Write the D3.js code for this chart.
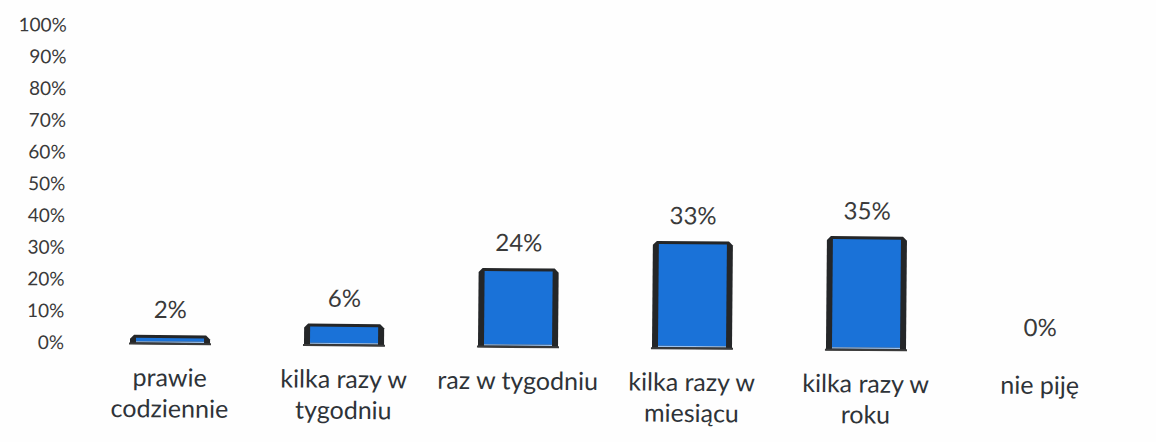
<!DOCTYPE html>
<html>
<head>
<meta charset="utf-8">
<script src="https://cdn.jsdelivr.net/npm/d3@7"></script>
<style>
  html, body { margin: 0; padding: 0; background: #ffffff; }
  svg { display: block; }
</style>
</head>
<body>
<svg id="chart" width="1156" height="442"></svg>
<script>
const categories = [["prawie", "codziennie"], ["kilka razy w", "tygodniu"], ["raz w tygodniu"], ["kilka razy w", "miesiącu"], ["kilka razy w", "roku"], ["nie piję"]];
const values = [0.02, 0.06, 0.24, 0.33, 0.35, 0.00];
const yTicks = [0, 0.1, 0.2, 0.3, 0.4, 0.5, 0.6, 0.7, 0.8, 0.9, 1.0];

const svg = d3.select("#chart");
const W = 1156, H = 442;
svg.append("rect").attr("width", W).attr("height", H).attr("fill", "#fefefe");

// slight scan rotation
const g = svg.append("g").attr("transform", "rotate(0.5,578,346)");

const keys = categories.map((c, i) => i);
const x = d3.scaleBand().domain(keys).range([83, 1127]).paddingInner(0.54).paddingOuter(0.27);
const y = d3.scaleLinear().domain([0, 1]).range([347, 29.5]);
const base = 348;

const font = "Lato, 'Open Sans', sans-serif";
const textColor = "#3a3a3a";

// y axis
const yAxis = d3.axisLeft(y).tickValues(yTicks).tickFormat(d3.format(".0%")).tickSize(0).tickPadding(0);
const ya = g.append("g").attr("transform", "translate(64,0)").call(yAxis);
ya.select(".domain").remove();
ya.selectAll("text").attr("font-family", font).attr("font-size", 19).attr("fill", textColor);

// bars
const bw = x.bandwidth();
const edge = 6, ch = 4;
const bars = g.selectAll("g.bar").data(values).join("g").attr("class", "bar");
bars.each(function(v, i) {
  const s = d3.select(this);
  const x0 = x(i), x1 = x(i) + bw;
  const top = Math.min(y(v) - 2, base - 8);
  if (v <= 0) return;
  const pts = [[x0, base], [x0, top + ch], [x0 + ch, top], [x1 - ch, top], [x1, top + ch], [x1, base]];
  s.append("polygon").attr("points", pts.map(p => p.join(",")).join(" ")).attr("fill", "#242628");
  s.append("rect").attr("x", x0 + edge).attr("y", top + 3).attr("width", bw - 2 * edge).attr("height", Math.max(1, base - 3 - (top + 3)))
    .attr("fill", "#1a72d8");
  s.append("rect").attr("x", x0 + edge).attr("y", base - 3).attr("width", bw - 2 * edge).attr("height", 1.2).attr("fill", "#9cc2ee");
  s.append("rect").attr("x", x0 - 1).attr("y", base - 1.5).attr("width", bw + 2).attr("height", 2).attr("fill", "#3a3a3a");
});

// value labels
g.selectAll("text.val").data(values).join("text").attr("class", "val")
  .attr("x", (d, i) => x(i) + bw / 2)
  .attr("y", d => y(d) - (d > 0 ? 19 : 15))
  .attr("text-anchor", "middle")
  .attr("font-family", font).attr("font-size", 24).attr("fill", textColor)
  .text(d => d3.format(".0%")(d));

// category labels
const cl = g.selectAll("text.cat").data(categories).join("text").attr("class", "cat")
  .attr("text-anchor", "middle")
  .attr("font-family", font).attr("font-size", 25).attr("fill", "#2e3338");
cl.each(function(lines, i) {
  const t = d3.select(this);
  lines.forEach((ln, j) => {
    t.append("tspan").attr("x", x(i) + bw / 2).attr("y", 390 + j * 31).text(ln);
  });
});
</script>
</body>
</html>
